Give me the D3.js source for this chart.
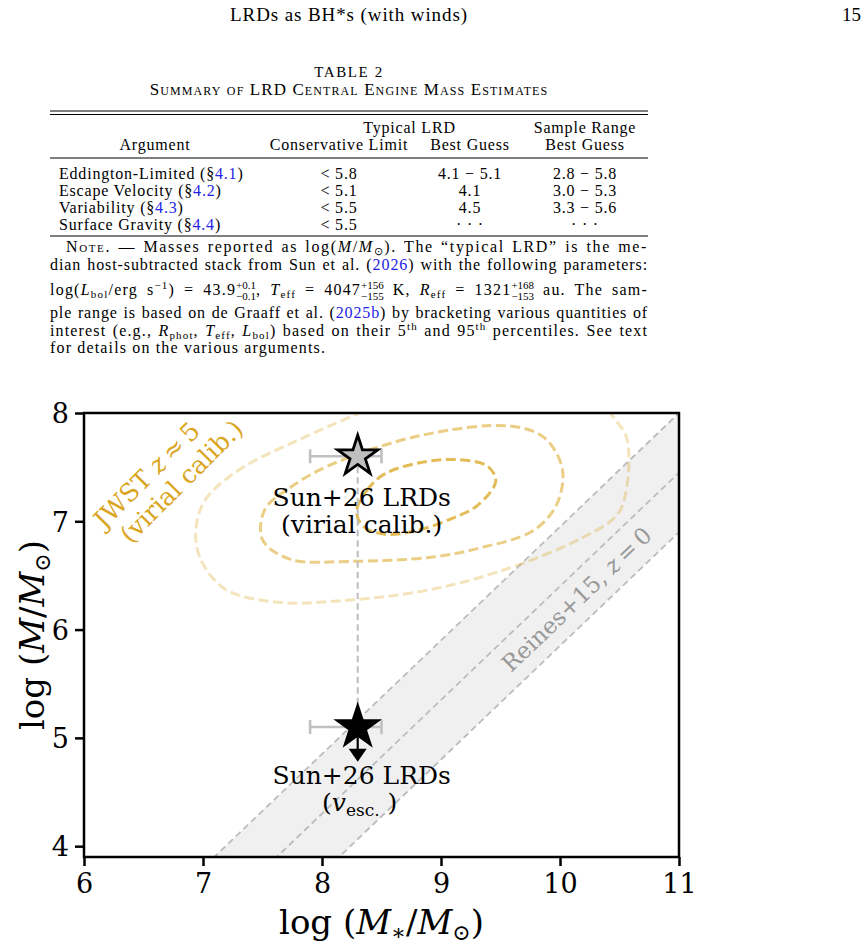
<!DOCTYPE html>
<html>
<head>
<meta charset="utf-8">
<script src="https://cdn.jsdelivr.net/npm/d3@7"></script>
<style>
body { margin: 0; background: #fff; }
#page { position: relative; width: 868px; height: 951px; overflow: hidden; }
#page svg { position: absolute; left: 0; top: 0; }
.note { position: absolute; left: 50px; width: 598px; font: 16px/18px "Liberation Serif", serif;
        white-space: nowrap; text-align: justify; text-align-last: justify; color: #000; }
.note.last { text-align-last: left; }
.note a { color: #2323e6; text-decoration: none; }
.sc { font-variant: small-caps; }
.ss { display: inline-flex; flex-direction: column; font-size: 11px; line-height: 11px; vertical-align: 6px; letter-spacing: 0; }
sub, sup { font-size: 11px; line-height: 0; }
sub { vertical-align: -3px; }
sup { vertical-align: 6px; }
</style>
</head>
<body>
<div id="page">
  <div class="note" style="top:238px;text-indent:16px"><span class="sc">Note.</span> — Masses reported as log(<i>M</i>/<i>M</i><sub>⊙</sub>). The “typical LRD” is the me-</div>
  <div class="note" style="top:255.5px">dian host-subtracted stack from Sun et al. (<a>2026</a>) with the following parameters:</div>
  <div class="note" style="top:280px">log(<i>L</i><sub>bol</sub>/erg s<sup>−1</sup>) = 43.9<span class="ss"><span>+0.1</span><span>−0.1</span></span>, <i>T</i><sub>eff</sub> = 4047<span class="ss"><span>+156</span><span>−155</span></span> K, <i>R</i><sub>eff</sub> = 1321<span class="ss"><span>+168</span><span>−153</span></span> au. The sam-</div>
  <div class="note" style="top:304px">ple range is based on de Graaff et al. (<a>2025b</a>) by bracketing various quantities of</div>
  <div class="note" style="top:321.5px">interest (e.g., <i>R</i><sub>phot</sub>, <i>T</i><sub>eff</sub>, <i>L</i><sub>bol</sub>) based on their 5<sup>th</sup> and 95<sup>th</sup> percentiles. See text</div>
  <div class="note last" style="top:339px">for details on the various arguments.</div>
</div>
<script>
// table 2
const argNames = ["Eddington-Limited", "Escape Velocity", "Variability", "Surface Gravity"];
const argSections = ["4.1", "4.2", "4.3", "4.4"];
const consLimit = ["< 5.8", "< 5.1", "< 5.5", "< 5.5"];
const bestGuess = ["4.1 − 5.1", "4.1", "4.5", "· · ·"];
const sampleRange = ["2.8 − 5.8", "3.0 − 5.3", "3.3 − 5.6", "· · ·"];

// figure
const xTicks = [6, 7, 8, 9, 10, 11];
const yTicks = [4, 5, 6, 7, 8];
const reinesMstar = [6, 11];
const reinesFit = {a: 7.45, b: 1.05, pivot: 11, scatter: 0.55};
const sunMstar = 8.3, sunMstarLo = 7.9, sunMstarHi = 8.5;
const sunViral = 7.6, sunVesc = 5.1, sunVescArrow = 4.78;

// JWST z~5 contours, [log M*, log M]
const contourOuter = [[8.57, 8.12], [7.82, 7.76], [7.31, 7.48], [7.02, 7.2], [6.94, 6.92], [6.98, 6.65],
  [7.19, 6.37], [7.65, 6.25], [8.07, 6.26], [8.82, 6.35], [9.5, 6.54], [10.19, 6.85], [10.48, 7.06],
  [10.56, 7.31], [10.56, 7.77], [10.45, 7.96], [10.34, 8.12]];
const contourMid = [[7.52, 7.11], [7.73, 7.31], [8.07, 7.52], [8.82, 7.79], [9.58, 7.88], [9.87, 7.77],
  [10.02, 7.48], [9.97, 7.15], [9.77, 6.91], [9.35, 6.76], [8.93, 6.67], [8.24, 6.63], [7.73, 6.65], [7.5, 6.83]];
const contourInner = [[8.29, 7.09], [8.38, 7.29], [8.53, 7.44], [8.82, 7.54], [9.12, 7.57], [9.39, 7.51],
  [9.46, 7.37], [9.31, 7.15], [9.08, 7.02], [8.78, 6.91], [8.53, 6.88], [8.35, 6.95]];

// stretch note lines with letter spacing (LaTeX font is wider than Liberation)
const noteW = 598;
let lsSum = 0, lsN = 0;
d3.selectAll(".note:not(.last)").each(function() {
  const div = d3.select(this);
  const span = document.createElement("span");
  while (this.firstChild) span.appendChild(this.firstChild);
  this.appendChild(span);
  this.style.textAlignLast = "left";
  const indent = parseFloat(this.style.textIndent) || 0;
  const w = span.getBoundingClientRect().width;
  const n = span.textContent.length;
  const ls = Math.max(0, (noteW - indent - w) / n * 0.85);
  this.style.textAlignLast = "";
  div.style("letter-spacing", ls + "px");
  lsSum += ls; lsN += 1;
});
d3.selectAll(".note.last").style("letter-spacing", (lsSum / lsN) + "px");

const W = 868, H = 951;
const svg = d3.select("#page").append("svg").attr("width", W).attr("height", H);
const tex = "'Liberation Serif', serif";
const mpl = "'DejaVu Serif', serif";

// ---- page header + table ----
svg.append("text").attr("x", 349).attr("y", 21).attr("text-anchor", "middle")
  .style("font", `19px ${tex}`).attr("letter-spacing", 0.9).text("LRDs as BH*s (with winds)");
svg.append("text").attr("x", 861).attr("y", 21).attr("text-anchor", "end")
  .style("font", `19px ${tex}`).text("15");
svg.append("text").attr("x", 349).attr("y", 77).attr("text-anchor", "middle")
  .style("font", `15px ${tex}`).attr("letter-spacing", 1.6).text("TABLE 2");
svg.append("text").attr("x", 349).attr("y", 95).attr("text-anchor", "middle")
  .style("font", `17px ${tex}`).style("font-variant", "small-caps").attr("letter-spacing", 1.1)
  .text("Summary of LRD Central Engine Mass Estimates");

const rule = (y0, w) => svg.append("line").attr("x1", 50).attr("x2", 648).attr("y1", y0).attr("y2", y0)
  .attr("stroke", "#000").attr("stroke-width", w);
rule(111, 1.1); rule(114.5, 1.1); rule(158, 1.1); rule(236, 1.1);

const colX = {arg: 59, cons: 339, best: 470, range: 585};
const head = svg.append("g").style("font", `16px ${tex}`).attr("letter-spacing", 0.8).attr("text-anchor", "middle");
head.append("text").attr("x", (colX.cons + colX.best) / 2 + 5).attr("y", 133).text("Typical LRD");
head.append("text").attr("x", colX.range).attr("y", 133).text("Sample Range");
head.append("text").attr("x", 155).attr("y", 149.5).text("Argument");
head.append("text").attr("x", colX.cons).attr("y", 149.5).text("Conservative Limit");
head.append("text").attr("x", colX.best).attr("y", 149.5).text("Best Guess");
head.append("text").attr("x", colX.range).attr("y", 149.5).text("Best Guess");

const rowY = d3.scaleLinear().domain([0, argNames.length - 1]).range([178.5, 229.5]);
const rows = svg.append("g").style("font", `16px ${tex}`).attr("letter-spacing", 0.8)
  .selectAll("g").data(argNames).join("g")
  .attr("transform", (d, i) => `translate(0,${rowY(i)})`);
const argText = rows.append("text").attr("x", colX.arg);
argText.append("tspan").text(d => d + " (§");
argText.append("tspan").attr("fill", "#2323e6").text((d, i) => argSections[i]);
argText.append("tspan").text(")");
rows.append("text").attr("x", colX.cons).attr("text-anchor", "middle").text((d, i) => consLimit[i]);
rows.append("text").attr("x", colX.best).attr("text-anchor", "middle").text((d, i) => bestGuess[i]);
rows.append("text").attr("x", colX.range).attr("text-anchor", "middle").text((d, i) => sampleRange[i]);

// ---- figure ----
const x = d3.scaleLinear().domain([6, 11]).range([84, 679]);
const y = d3.scaleLinear().domain([3.9, 8]).range([857, 413]);

svg.append("clipPath").attr("id", "plotclip").append("rect")
  .attr("x", x(6)).attr("y", y(8)).attr("width", x(11) - x(6)).attr("height", y(3.9) - y(8));
const plot = svg.append("g").attr("clip-path", "url(#plotclip)");

const reines = m => reinesFit.a + reinesFit.b * (m - reinesFit.pivot);
plot.append("path").datum(reinesMstar)
  .attr("d", d3.area().x(d => x(d)).y0(d => y(reines(d) - reinesFit.scatter)).y1(d => y(reines(d) + reinesFit.scatter)))
  .attr("fill", "#f0f0f0");
[-1, 0, 1].forEach(k => {
  plot.append("path").datum(reinesMstar)
    .attr("d", d3.line().x(d => x(d)).y(d => y(reines(d) + k * reinesFit.scatter)))
    .attr("fill", "none").attr("stroke", "#bcbcbc").attr("stroke-width", 1.8).attr("stroke-dasharray", "6.5,4");
});

const gold = "#daa520";
const contours = [
  {pts: contourOuter, op: 0.3, curve: d3.curveCatmullRom},
  {pts: contourMid, op: 0.55, curve: d3.curveCatmullRomClosed},
  {pts: contourInner, op: 0.75, curve: d3.curveCatmullRomClosed}
];
contours.forEach(c => {
  plot.append("path").datum(c.pts)
    .attr("d", d3.line().x(d => x(d[0])).y(d => y(d[1])).curve(c.curve))
    .attr("fill", "none").attr("stroke", gold).attr("stroke-opacity", c.op)
    .attr("stroke-width", 3).attr("stroke-dasharray", "10,4.5");
});

// connector between the two estimates
plot.append("line").attr("x1", x(sunMstar)).attr("x2", x(sunMstar)).attr("y1", y(sunViral)).attr("y2", y(sunVesc))
  .attr("stroke", "#bdbdbd").attr("stroke-width", 2).attr("stroke-dasharray", "6.5,4");

// error bars
[sunViral, sunVesc].forEach(v => {
  const g = plot.append("g").attr("stroke", "#c0c0c0").attr("stroke-width", 2.6);
  g.append("line").attr("x1", x(sunMstarLo)).attr("x2", x(sunMstarHi)).attr("y1", y(v)).attr("y2", y(v));
  [sunMstarLo, sunMstarHi].forEach(e => g.append("line").attr("x1", x(e)).attr("x2", x(e))
    .attr("y1", y(v) - 7).attr("y2", y(v) + 7));
});

// upper limit arrow
plot.append("line").attr("x1", x(sunMstar)).attr("x2", x(sunMstar)).attr("y1", y(sunVesc)).attr("y2", y(sunVescArrow) - 10)
  .attr("stroke", "#000").attr("stroke-width", 2.2);
plot.append("path")
  .attr("d", `M${x(sunMstar) - 9},${y(sunVescArrow) - 13}L${x(sunMstar) + 9},${y(sunVescArrow) - 13}L${x(sunMstar)},${y(sunVescArrow)}Z`)
  .attr("fill", "#000");

const star = d3.symbol(d3.symbolStar, 500);
plot.append("path").attr("d", star).attr("transform", `translate(${x(sunMstar)},${y(sunViral)})`)
  .attr("fill", "#bfbfbf").attr("stroke", "#000").attr("stroke-width", 2.8).attr("stroke-linejoin", "miter");
plot.append("path").attr("d", star).attr("transform", `translate(${x(sunMstar)},${y(sunVesc)})`)
  .attr("fill", "#000").attr("stroke", "#000").attr("stroke-width", 2.8);

// labels
const lab = plot.append("g").style("font", `25px ${mpl}`).attr("text-anchor", "middle").attr("fill", "#000");
lab.append("text").attr("x", x(sunMstar) + 4).attr("y", y(sunViral) + 50).text("Sun+26 LRDs");
lab.append("text").attr("x", x(sunMstar) + 4).attr("y", y(sunViral) + 77).text("(virial calib.)");
lab.append("text").attr("x", x(sunMstar) + 4).attr("y", y(sunVesc) + 57).text("Sun+26 LRDs");
const vesc = lab.append("text").attr("x", x(sunMstar) + 2).attr("y", y(sunVesc) + 84);
vesc.append("tspan").text("(");
vesc.append("tspan").style("font-style", "italic").text("v");
vesc.append("tspan").attr("font-size", 17).attr("dy", 5).text("esc.");
vesc.append("tspan").attr("dy", -5).text(" )");

const bandAngle = -Math.atan2(y(0) - y(reinesFit.b), x(1) - x(0)) * 180 / Math.PI;
const rl = plot.append("text").attr("transform", `translate(${x(10.14)},${y(6.28)}) rotate(${bandAngle})`)
  .attr("text-anchor", "middle").attr("dy", "0.35em").style("font", `23px ${mpl}`).attr("fill", "#999");
rl.append("tspan").text("Reines+15, ");
rl.append("tspan").style("font-style", "italic").text("z");
rl.append("tspan").text("\u2009=\u20090");

const jw = plot.append("g").attr("transform", `translate(${x(6.68)},${y(7.39)}) rotate(-45)`)
  .style("font", `25px ${mpl}`).attr("fill", gold).attr("text-anchor", "middle");
const jw1 = jw.append("text").attr("x", -10).attr("y", -7);
jw1.append("tspan").text("JWST ");
jw1.append("tspan").style("font-style", "italic").text("z");
jw1.append("tspan").text("\u2009≈\u20095");
jw.append("text").attr("x", 10).attr("y", 22).text("(virial calib.)");

// frame
svg.append("rect").attr("x", x(6)).attr("y", y(8)).attr("width", x(11) - x(6)).attr("height", y(3.9) - y(8))
  .attr("fill", "none").attr("stroke", "#000").attr("stroke-width", 2.5);

// axes
const xAxis = svg.append("g").attr("transform", `translate(0,${y(3.9)})`)
  .call(d3.axisBottom(x).tickValues(xTicks).tickSize(9).tickPadding(8).tickFormat(d3.format("d")));
const yAxis = svg.append("g").attr("transform", `translate(${x(6)},0)`)
  .call(d3.axisLeft(y).tickValues(yTicks).tickSize(9).tickPadding(6).tickFormat(d3.format("d")));
[xAxis, yAxis].forEach(a => {
  a.select(".domain").remove();
  a.selectAll(".tick line").attr("stroke", "#000").attr("stroke-width", 2.5);
  a.selectAll(".tick text").attr("fill", "#000").style("font", `27px ${mpl}`);
});
yAxis.selectAll(".tick text").attr("dy", "0.36em");

const xl = svg.append("text").attr("x", (x(6) + x(11)) / 2).attr("y", 934).attr("text-anchor", "middle")
  .style("font", `34px ${mpl}`);
xl.append("tspan").text("log (");
xl.append("tspan").style("font-style", "italic").text("M");
xl.append("tspan").attr("font-size", 22).attr("dy", 6).text("∗");
xl.append("tspan").attr("dy", -6).text("/");
xl.append("tspan").style("font-style", "italic").text("M");
xl.append("tspan").attr("font-size", 22).attr("dy", 6).text("⊙");
xl.append("tspan").attr("dy", -6).text(")");

const yl = svg.append("text").attr("transform", `translate(44,${(y(8) + y(3.9)) / 2}) rotate(-90)`)
  .attr("text-anchor", "middle").style("font", `34px ${mpl}`);
yl.append("tspan").text("log (");
yl.append("tspan").style("font-style", "italic").text("M");
yl.append("tspan").text("/");
yl.append("tspan").style("font-style", "italic").text("M");
yl.append("tspan").attr("font-size", 22).attr("dy", 6).text("⊙");
yl.append("tspan").attr("dy", -6).text(")");
</script>
</body>
</html>
